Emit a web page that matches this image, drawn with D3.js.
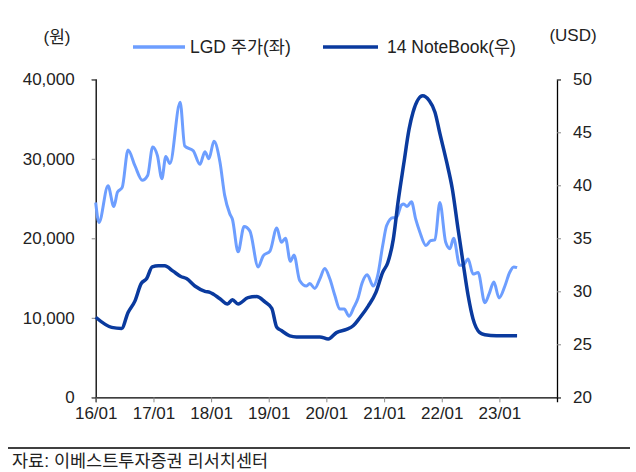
<!DOCTYPE html>
<html lang="ko">
<head>
    <meta charset="utf-8" />
    <script src="https://d3js.org/d3.v7.min.js"></script>
    <style>
        body { margin: 0; background: #fff; }
        text { font-family: "Liberation Sans", "Noto Sans CJK KR", sans-serif; fill: #222; }
    </style>
</head>
<body>
<script>
    // LGD 주가 (원) - 그림에서 읽은 값
    var lgdDates = ["2016-01-01","2016-01-22","2016-03-19","2016-04-25","2016-05-18","2016-06-17","2016-07-24","2016-09-06",
        "2016-10-22","2016-11-25","2016-12-27","2017-01-26","2017-02-23","2017-03-20","2017-04-15","2017-06-19","2017-07-18",
        "2017-09-10","2017-10-22","2017-11-23","2017-12-18","2018-01-19","2018-02-26","2018-03-28","2018-04-29","2018-05-16",
        "2018-06-21","2018-07-29","2018-09-04","2018-10-26","2018-11-27","2019-01-09","2019-02-21","2019-03-22","2019-04-17",
        "2019-05-18","2019-06-10","2019-07-16","2019-08-28","2019-09-18","2019-10-20","2019-11-21","2019-12-22","2020-01-23",
        "2020-02-24","2020-03-26","2020-04-23","2020-05-24","2020-06-23","2020-07-20","2020-08-15","2020-09-16","2020-10-24",
        "2020-11-21","2020-12-23","2021-01-17","2021-02-25","2021-03-20","2021-04-21","2021-05-05","2021-05-26","2021-06-23",
        "2021-07-20","2021-08-15","2021-09-23","2021-10-22","2021-11-19","2021-12-20","2022-01-26","2022-02-22","2022-03-17",
        "2022-04-25","2022-05-16","2022-06-17","2022-07-18","2022-08-19","2022-10-01","2022-10-28","2022-11-27","2022-12-30",
        "2023-02-05","2023-03-07","2023-04-02","2023-04-23"];
    var lgdValues = [24500,22000,26600,24000,25800,26400,31100,29100,
        27300,27900,31500,30400,27500,30300,29400,37100,31600,
        31000,29300,30900,30000,32200,29600,25400,23100,22400,
        18300,21500,20900,16400,17800,18400,21300,19500,20000,
        17100,17900,14700,14000,14300,13700,14900,16200,14900,
        12800,11100,11100,10200,11300,12500,14400,15400,14000,
        15300,19100,21600,22600,22600,24200,24300,24000,24600,
        22400,20800,19100,19700,19800,24500,19500,18700,20000,
        16600,16600,17400,15500,15700,11900,13000,14500,12500,
        14000,15700,16400,16300];

    // 14인치 노트북 패널 가격 (USD)
    var nbDates = ["2016-01-01","2016-04-11","2016-06-13","2016-07-24","2016-09-06","2016-10-14","2016-11-19","2016-12-24",
        "2017-02-01","2017-03-13","2017-05-05","2017-06-23","2017-07-29","2017-09-20","2017-11-23","2017-12-24","2018-02-26",
        "2018-04-15","2018-05-16","2018-06-21","2018-08-23","2018-10-16","2018-12-08","2019-01-20","2019-02-21","2019-03-22",
        "2019-05-14","2019-06-26","2019-11-21","2020-01-13","2020-03-05","2020-05-08","2020-06-19","2020-07-31","2020-09-22",
        "2020-11-10","2020-12-23","2021-01-24","2021-02-28","2021-03-30","2021-05-05","2021-06-08","2021-07-03","2021-09-02",
        "2021-10-13","2021-11-19","2021-12-20","2022-02-01","2022-03-09","2022-04-14","2022-05-16","2022-06-17","2022-07-18",
        "2022-08-30","2022-10-01","2022-12-14","2023-04-23"];
    var nbValues = [27.55,26.6,26.5,28.0,29.1,30.7,31.2,32.3,
        32.4,32.4,31.9,31.4,31.2,30.5,30.0,29.9,29.3,
        28.8,29.2,28.8,29.4,29.5,29.0,28.4,26.6,26.3,
        25.8,25.7,25.7,25.5,26.1,26.4,26.75,27.5,28.6,
        29.9,31.8,32.7,34.9,38.4,42.0,45.3,46.9,48.45,
        48.0,46.9,44.9,42.2,39.65,35.9,32.7,29.6,27.4,
        26.1,25.9,25.8,25.8];

    var xTicks = ["2016-01-01","2017-01-01","2018-01-01","2019-01-01","2020-01-01","2021-01-01","2022-01-01","2023-01-01"];
    var leftTicks = [0, 10000, 20000, 30000, 40000];
    var rightTicks = [20, 25, 30, 35, 40, 45, 50];

    var width = 636, height = 472;
    var plotLeft = 95.7, plotRight = 557, plotTop = 79.3, plotBottom = 397.3;
    var parse = d3.timeParse("%Y-%m-%d");

    var svg = d3.select("body").append("svg")
        .attr("width", width)
        .attr("height", height);

    var x = d3.scaleTime()
        .domain([parse("2016-01-01"), parse("2024-01-01")])
        .range([plotLeft, plotRight]);
    var yL = d3.scaleLinear().domain([0, 40000]).range([plotBottom, plotTop]);
    var yR = d3.scaleLinear().domain([20, 50]).range([plotBottom, plotTop]);

    // 축
    var axL = svg.append("g").attr("transform", "translate(" + plotLeft + ",0)")
        .call(d3.axisLeft(yL).tickValues(leftTicks).tickSize(4).tickPadding(17).tickFormat(d3.format(",")));
    var axR = svg.append("g").attr("transform", "translate(" + plotRight + ",0)")
        .call(d3.axisRight(yR).tickValues(rightTicks).tickSize(4).tickPadding(12));
    var axX = svg.append("g").attr("transform", "translate(0," + plotBottom + ")")
        .call(d3.axisBottom(x).tickValues(xTicks.map(parse)).tickSize(5).tickPadding(5).tickFormat(d3.timeFormat("%y/%m")));

    [axL, axR, axX].forEach(function (a) {
        a.select(".domain").attr("stroke", "#000").attr("stroke-width", 1.3);
        a.selectAll(".tick line").attr("stroke", "#888");
        a.selectAll(".tick text").style("font-size", "17px").attr("fill", "#222");
    });

    // 선
    var lgd = lgdDates.map(function (d, i) { return { date: parse(d), value: lgdValues[i] }; });
    var nb = nbDates.map(function (d, i) { return { date: parse(d), value: nbValues[i] }; });

    svg.append("path").datum(lgd)
        .attr("fill", "none")
        .attr("stroke", "#6d9eff")
        .attr("stroke-width", 3)
        .attr("d", d3.line().curve(d3.curveMonotoneX)
            .x(function (d) { return x(d.date); })
            .y(function (d) { return yL(d.value); }));

    svg.append("path").datum(nb)
        .attr("fill", "none")
        .attr("stroke", "#0a3a9e")
        .attr("stroke-width", 3.5)
        .attr("d", d3.line().curve(d3.curveMonotoneX)
            .x(function (d) { return x(d.date); })
            .y(function (d) { return yR(d.value); }));

    // 단위 & 범례
    svg.append("text").attr("x", 57).attr("y", 37).attr("text-anchor", "middle")
        .attr("dominant-baseline", "central").style("font-size", "17px").text("(원)");
    svg.append("text").attr("x", 573).attr("y", 35).attr("text-anchor", "middle")
        .attr("dominant-baseline", "central").style("font-size", "17px").text("(USD)");

    var legend = [
        { label: "LGD 주가(좌)", color: "#6d9eff", x1: 133, x2: 185, tx: 190 },
        { label: "14 NoteBook(우)", color: "#0a3a9e", x1: 323, x2: 378, tx: 387 }
    ];
    legend.forEach(function (l) {
        svg.append("line").attr("x1", l.x1).attr("x2", l.x2).attr("y1", 47).attr("y2", 47)
            .attr("stroke", l.color).attr("stroke-width", 3.5);
        svg.append("text").attr("x", l.tx).attr("y", 47).attr("dominant-baseline", "central")
            .style("font-size", "17.5px").text(l.label);
    });

    // 출처
    svg.append("line").attr("x1", 8).attr("x2", 630).attr("y1", 448).attr("y2", 448)
        .attr("stroke", "#000").attr("stroke-width", 1.3);
    svg.append("text").attr("x", 12).attr("y", 461).attr("dominant-baseline", "central")
        .style("font-size", "17.5px").text("자료: 이베스트투자증권 리서치센터");
</script>
</body>
</html>
